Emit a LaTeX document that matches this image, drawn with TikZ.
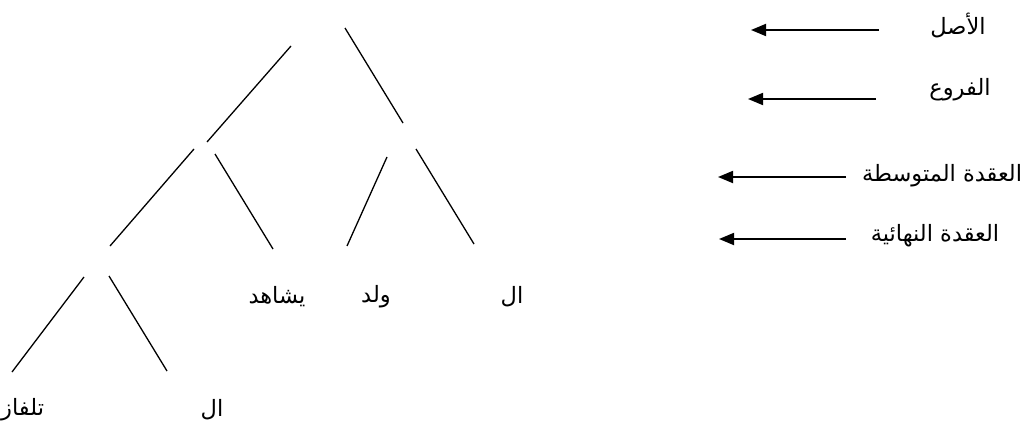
\documentclass[tikz,border=0pt]{standalone}
\usepackage{fontspec}
\TeXXeTstate=1
\newfontfamily\arabicfont[Script=Arabic]{DejaVu Sans}
\usetikzlibrary{arrows.meta}
\begin{document}
\begin{tikzpicture}[x=1pt,y=-1pt,
  branch/.style={line width=1.3pt},
  pointer/.style={line width=1.8pt,-{Triangle[length=15pt,width=12pt]}},
  word/.style={font=\arabicfont\fontsize{22.5}{26}\selectfont,inner sep=0pt}]
\useasboundingbox (0,0) rectangle (1026,436);
% tree branch end points
\coordinate (a1) at (291,46);  \coordinate (a2) at (207,142);
\coordinate (b1) at (345,28);  \coordinate (b2) at (403,123);
\coordinate (c1) at (194,149); \coordinate (c2) at (110,246);
\coordinate (d1) at (215,154); \coordinate (d2) at (273,249);
\coordinate (e1) at (387,157); \coordinate (e2) at (347,246);
\coordinate (f1) at (416,149); \coordinate (f2) at (474,244);
\coordinate (g1) at (84,277);  \coordinate (g2) at (12,372);
\coordinate (h1) at (109,276); \coordinate (h2) at (167,371);
\draw[branch] (a1) -- (a2);
\draw[branch] (b1) -- (b2);
\draw[branch] (c1) -- (c2);
\draw[branch] (d1) -- (d2);
\draw[branch] (e1) -- (e2);
\draw[branch] (f1) -- (f2);
\draw[branch] (g1) -- (g2);
\draw[branch] (h1) -- (h2);
% leaf words
\node[word] (yushahid) at (277,297) {\beginR يشاهد\endR};
\node[word] (walad) at (376,297) {\beginR ولد\endR};
\node[word] (al1) at (512,297) {\beginR ال\endR};
\node[word,anchor=west] (tilfaz) at (1,410) {\beginR تلفاز\endR};
\node[word] (al2) at (212,410) {\beginR ال\endR};
% legend
\node[word] (asl) at (958,25) {\beginR الأصل\endR};
\node[word] (furu) at (960,90) {\beginR الفروع\endR};
\node[word] (mid) at (942,176) {\beginR العقدة المتوسطة\endR};
\node[word] (fin) at (935,236) {\beginR العقدة النهائية\endR};
\coordinate (p1s) at (879,30);  \coordinate (p1e) at (751,30);
\coordinate (p2s) at (876,99);  \coordinate (p2e) at (748,99);
\coordinate (p3s) at (846,177); \coordinate (p3e) at (718,177);
\coordinate (p4s) at (846,239); \coordinate (p4e) at (719,239);
\draw[pointer] (p1s) -- (p1e);
\draw[pointer] (p2s) -- (p2e);
\draw[pointer] (p3s) -- (p3e);
\draw[pointer] (p4s) -- (p4e);
\end{tikzpicture}
\end{document}
